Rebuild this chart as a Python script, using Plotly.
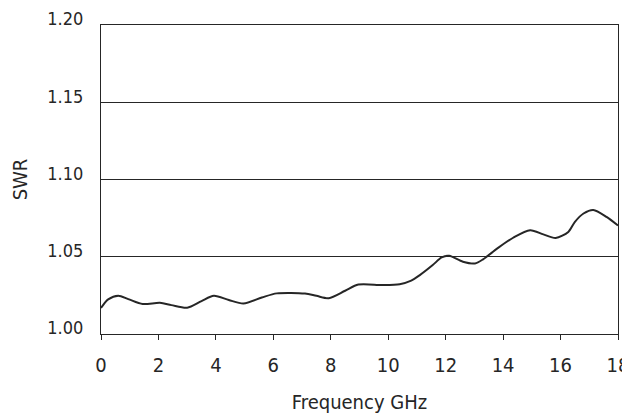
import plotly.graph_objects as go

freq_ghz = [0, 0.25, 0.6, 0.95, 1.45, 2.05, 2.45, 3.0, 3.5, 3.93, 4.45, 4.96, 5.6, 6.12,
            7.1, 7.5, 7.93, 8.5, 8.96, 9.8, 10.4, 10.8, 11.1, 11.55, 11.86, 12.12, 12.6,
            13.02, 13.3, 13.8, 14.35, 14.94, 15.4, 15.83, 16.27, 16.5, 16.8, 17.14, 17.6, 18]
swr = [1.0168, 1.0224, 1.0248, 1.0226, 1.0194, 1.0202, 1.0187, 1.0170, 1.0213, 1.0247,
       1.0220, 1.0198, 1.0236, 1.0263, 1.0262, 1.0247, 1.0232, 1.0280, 1.0320, 1.0317,
       1.0322, 1.0345, 1.0381, 1.0446, 1.0496, 1.0506, 1.0468, 1.0457, 1.0483, 1.0554,
       1.0623, 1.0672, 1.0645, 1.0622, 1.0661, 1.0726, 1.0780, 1.0803, 1.0758, 1.0702]

x_ticks = [0, 2, 4, 6, 8, 10, 12, 14, 16, 18]
y_ticks = [1.00, 1.05, 1.10, 1.15, 1.20]
y_tick_labels = ["1.00", "1.05", "1.10", "1.15", "1.20"]

FONT = "DejaVu Sans Condensed, sans-serif"
INK = "#262626"

fig = go.Figure()
fig.add_trace(go.Scatter(
    x=freq_ghz, y=swr, mode="lines",
    line=dict(color=INK, width=2, shape="spline", smoothing=0.8),
    hoverinfo="x+y", showlegend=False,
))

# the page body adds an 8px offset, so the figure is sized to fit the window
fig.update_layout(
    width=622, height=411,
    margin=dict(l=93, r=12, t=17, b=85),
    paper_bgcolor="white", plot_bgcolor="white",
    font=dict(family=FONT, size=18, color=INK),
    xaxis=dict(
        range=[0, 18], tickvals=x_ticks, ticks="outside", ticklen=5, tickwidth=1.3,
        tickcolor=INK, showline=True, linecolor=INK, linewidth=1.3, mirror=True,
        showgrid=False, zeroline=False, ticklabelstandoff=8, automargin=False,
        tickfont=dict(family=FONT, size=20, color=INK),
        title=dict(text="Frequency GHz", font=dict(family=FONT, size=20, color=INK), standoff=18),
    ),
    yaxis=dict(
        range=[1.0, 1.2], tickvals=y_ticks, ticktext=y_tick_labels, ticks="",
        showline=True, linecolor=INK, linewidth=1.3, mirror=True,
        showgrid=True, gridcolor=INK, gridwidth=1.3, zeroline=False,
        ticklabelposition="outside", ticklabelshift=-6, ticklabelstandoff=13,
        ticklabeloverflow="allow", automargin=False,
        tickfont=dict(family=FONT, size=18, color=INK),
        title=dict(text="SWR", font=dict(family=FONT, size=20, color=INK), standoff=22),
    ),
)

fig.write_html("out.html")
